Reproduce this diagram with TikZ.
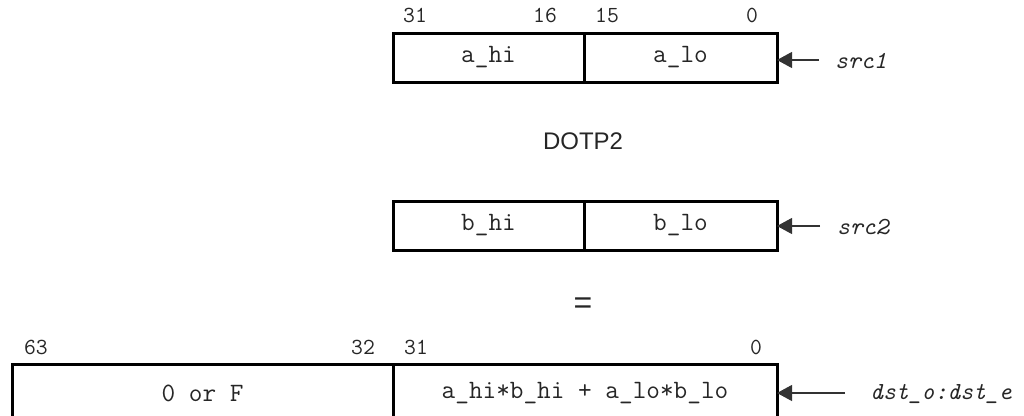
\documentclass[tikz,border=0pt]{standalone}
\usepackage{fontspec}
\setmainfont{Liberation Sans}
\setsansfont{Liberation Sans}
\usetikzlibrary{arrows.meta}
\begin{document}
\begin{tikzpicture}[x=1pt,y=-1pt,
  cell/.style={draw=black, line width=3pt, inner sep=0pt, outer sep=0pt,
    font=\fontsize{26.5}{28}\selectfont\ttfamily, text=black!85},
  bitnum/.style={inner sep=0pt, font=\fontsize{23}{25}\selectfont\ttfamily, text=black!85},
  reglabel/.style={anchor=west, inner sep=0pt, font=\fontsize{24.5}{26}\selectfont\ttfamily\itshape, text=black!85},
  feed/.style={line width=1.1pt, draw=black!80, -{Triangle[length=15pt,width=16pt]}},
  optext/.style={inner sep=0pt, text=black!85}
]
\useasboundingbox (0,0) rectangle (1024,415);

% src1
\node[cell, minimum width=191pt, minimum height=49pt] (ahi) at (488.5,57.5) {a\_hi};
\node[cell, minimum width=193pt, minimum height=49pt] (alo) at (680.5,57.5) {a\_lo};
\node[bitnum] (b31a) at (415,15) {31};
\node[bitnum] (b16a) at (545,15) {16};
\node[bitnum] (b15a) at (607,15) {15};
\node[bitnum] (b0a) at (752,15) {0};
\coordinate (s1) at (819,60);
\node[reglabel] (src1) at (835,61) {src1};
\draw[feed] (s1) -- (s1 -| alo.east);

% operator
\node[optext, font=\fontsize{24}{26}\selectfont\sffamily] (op) at (583,141) {DOTP2};

% src2
\node[cell, minimum width=191pt, minimum height=49pt] (bhi) at (488.5,225.5) {b\_hi};
\node[cell, minimum width=193pt, minimum height=49pt] (blo) at (680.5,225.5) {b\_lo};
\coordinate (s2) at (820,226);
\node[reglabel] (src2) at (837,227) {src2};
\draw[feed] (s2) -- (s2 -| blo.east);

% equals
\node[optext, font=\fontsize{32}{34}\selectfont\sffamily] (eq) at (583,306) {=};

% dst
\node[cell, minimum width=381pt, minimum height=58pt] (dhi) at (202.5,393) {0 or F};
\node[cell, minimum width=384pt, minimum height=58pt] (dlo) at (585,393) {a\_hi*b\_hi + a\_lo*b\_lo};
\node[bitnum] (b63) at (36,347) {63};
\node[bitnum] (b32) at (363,347) {32};
\node[bitnum] (b31d) at (416,347) {31};
\node[bitnum] (b0d) at (756,347) {0};
\coordinate (s3) at (845,393);
\node[reglabel] (dst) at (870,394) {dst\_o:dst\_e};
\draw[feed] (s3) -- (s3 -| dlo.east);
\end{tikzpicture}
\end{document}
